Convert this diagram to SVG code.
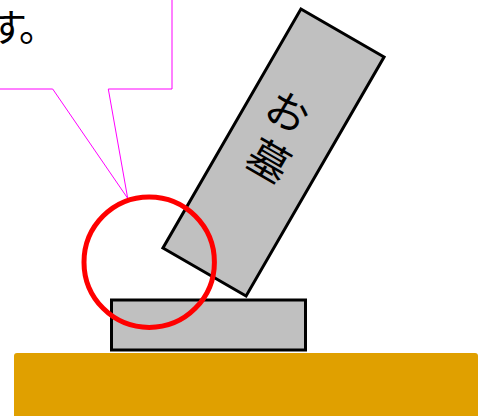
<svg xmlns="http://www.w3.org/2000/svg" width="484" height="416" viewBox="0 0 484 416">
<style>
.stone{fill:#c0c0c0;stroke:#000;stroke-width:3}
.jp{font-family:"Noto Sans CJK JP","Noto Sans",sans-serif;fill:#000}
</style>
<rect width="484" height="416" fill="#fff"/>
<g id="ground"><rect x="14" y="353" width="464" height="80" rx="3" fill="#e0a000"/></g>
<g id="base"><rect class="stone" x="111.5" y="300" width="194" height="50"/></g>
<g id="tombstone" transform="translate(273.5,152.5) rotate(30)">
<rect class="stone" x="-48" y="-138" width="96" height="276"/>
<text class="jp" x="-8" y="-45" font-size="42" text-anchor="middle" dominant-baseline="central">お</text>
<text class="jp" x="0" y="6.5" font-size="42" text-anchor="middle" dominant-baseline="central">墓</text>
</g>
<g id="callout">
<path d="M172,-20 L172,89 L108.3,89 L127.7,198.3 L52.7,89 L-20,89 L-20,-20 Z" fill="#fff" stroke="#ff00ff" stroke-width="1"/>
<text class="jp" x="-11 19" y="41" font-size="38">す。</text>
</g>
<g id="marker"><circle cx="149.2" cy="262.2" r="65.2" fill="none" stroke="#ff0000" stroke-width="5"/></g>
</svg>
